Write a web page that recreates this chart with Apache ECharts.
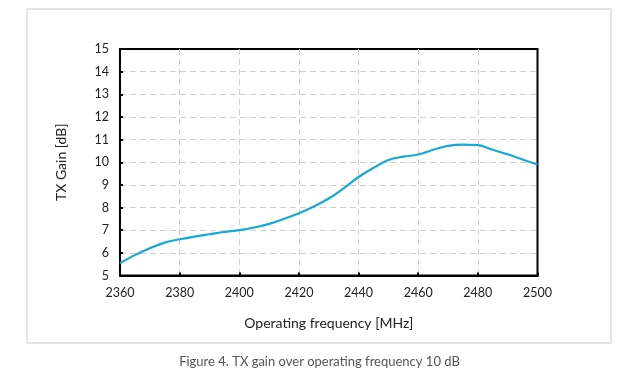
<!DOCTYPE html>
<html>
<head>
<meta charset="utf-8">
<script src="https://cdn.jsdelivr.net/npm/echarts@6/dist/echarts.min.js"></script>
<style>
  html, body { margin: 0; padding: 0; background: #fff; }
  #chart { width: 639px; height: 377px; }
</style>
</head>
<body>
<div id="chart"></div>
<script>
// frequency in MHz, gain in dB
var freq = [2360, 2365, 2370, 2375, 2380, 2385, 2390, 2395, 2400, 2405, 2410, 2415, 2420, 2425, 2430,
  2435, 2440, 2445, 2450, 2455, 2460, 2465, 2470, 2475, 2480, 2485, 2490, 2495, 2500];
var gain = [5.55, 5.9, 6.2, 6.45, 6.6, 6.72, 6.82, 6.92, 7.0, 7.12, 7.28, 7.5, 7.75, 8.05, 8.4,
  8.85, 9.35, 9.75, 10.1, 10.25, 10.34, 10.55, 10.72, 10.78, 10.76, 10.55, 10.35, 10.12, 9.9];
var xTitle = 'Operating frequency [MHz]';
var yTitle = 'TX Gain [dB]';
var caption = 'Figure 4. TX gain over operating frequency 10 dB';

var chart = echarts.init(document.getElementById('chart'));
var font = 'Lato, "Open Sans", sans-serif';
var grid = { color: '#cfcfcf', type: [6, 4], width: 1 };

chart.setOption({
  animation: false,
  title: {
    text: caption,
    left: 'center',
    top: 350,
    textStyle: { fontFamily: font, fontSize: 13, fontWeight: 'normal', color: '#555' }
  },
  graphic: [{
    type: 'rect',
    shape: { x: 27, y: 9, width: 584, height: 334 },
    style: { fill: 'none', stroke: '#dcdcdc', lineWidth: 1.5 },
    z: -1
  }],
  grid: {
    left: 120, right: 101.5, top: 49, bottom: 101.5,
    show: true, borderColor: '#000', borderWidth: 2
  },
  xAxis: {
    type: 'value',
    min: 2360, max: 2500, interval: 20,
    name: xTitle,
    nameLocation: 'middle',
    nameGap: 41,
    nameTextStyle: { fontFamily: font, fontSize: 14, color: '#222' },
    axisLine: { lineStyle: { color: '#000', width: 2 } },
    axisTick: { inside: true, length: 3, lineStyle: { color: '#000', width: 2 } },
    axisLabel: { fontFamily: font, fontSize: 12.5, color: '#222', margin: 11, formatter: function (v) { return String(v); } },
    splitLine: { show: true, showMinLine: false, showMaxLine: false, lineStyle: grid }
  },
  yAxis: {
    type: 'value',
    min: 5, max: 15, interval: 1,
    name: yTitle,
    nameLocation: 'middle',
    nameGap: 52,
    nameTextStyle: { fontFamily: font, fontSize: 14, color: '#222' },
    axisLine: { show: true, lineStyle: { color: '#000', width: 2 } },
    axisTick: { show: true, inside: true, length: 3, lineStyle: { color: '#000', width: 2 } },
    axisLabel: { fontFamily: font, fontSize: 12.5, color: '#222', margin: 11 },
    splitLine: { show: true, showMinLine: false, showMaxLine: false, lineStyle: grid }
  },
  series: [{
    type: 'line',
    data: freq.map(function (f, i) { return [f, gain[i]]; }),
    smooth: 0.4,
    showSymbol: false,
    lineStyle: { color: '#16a9d3', width: 2.2 },
    clip: false
  }]
});
</script>
</body>
</html>
